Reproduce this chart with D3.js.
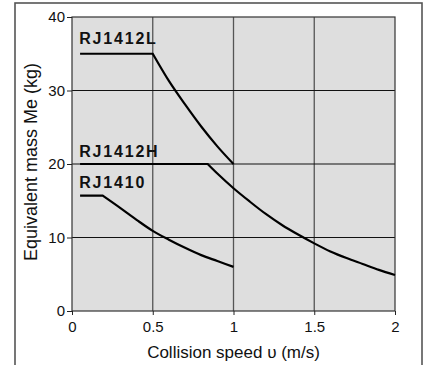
<!DOCTYPE html>
<html lang="en">
<head>
  <meta charset="UTF-8" />
  <title>Equivalent mass vs collision speed</title>
  <style>
    body { margin: 0; background: #fff; }
    svg { display: block; font-family: 'Liberation Sans', Arial, sans-serif; }
    .axis text { font-size: 15px; fill: #111; }
    .axis path { display: none; }
    .axis line { stroke: #222; }
    .series-label { font-size: 16px; font-weight: bold; letter-spacing: 1.8px; fill: #111; }
    .axis-title { font-size: 17px; fill: #111; }
  </style>
</head>
<body>
  <svg id="chart" width="428" height="365"></svg>
  <script src="https://d3js.org/d3.v7.min.js"></script>
  <script>
    // values: [speed m/s, mass kg]
    const rj1412L = [[0.05, 35], [0.5, 35], [0.6, 31.3], [0.7, 28.1], [0.8, 25.1],
                     [0.9, 22.4], [1.0, 20]];
    const rj1412H = [[0.05, 20], [0.84, 20], [0.9, 18.7], [1.0, 16.7], [1.1, 14.9],
                     [1.2, 13.2], [1.3, 11.7], [1.4, 10.4], [1.5, 9.2], [1.6, 8.1],
                     [1.7, 7.2], [1.8, 6.4], [1.9, 5.6], [2.0, 4.9]];
    const rj1410 = [[0.05, 15.7], [0.19, 15.7], [0.3, 14.0], [0.4, 12.4], [0.5, 10.9],
                    [0.6, 9.7], [0.7, 8.6], [0.8, 7.6], [0.9, 6.8], [1.0, 6.0]];

    const seriesNames = ["RJ1412L", "RJ1412H", "RJ1410"];
    const seriesData = [rj1412L, rj1412H, rj1410];
    // label anchor: [speed, mass] of the text baseline start
    const labelPos = [[0.045, 36.3], [0.045, 20.9], [0.045, 16.7]];

    const xTicks = [0, 0.5, 1, 1.5, 2];
    const yTicks = [0, 10, 20, 30, 40];

    const svg = d3.select("#chart");
    const margin = { left: 72, top: 17, right: 33, bottom: 54 };
    const width = 428 - margin.left - margin.right;
    const height = 365 - margin.top - margin.bottom;

    // outer frame, bottom edge runs off the picture
    svg.append("rect")
       .attr("x", 15).attr("y", 3)
       .attr("width", 407).attr("height", 368)
       .attr("fill", "none").attr("stroke", "#555").attr("stroke-width", 1.6);

    const g = svg.append("g").attr("transform", `translate(${margin.left},${margin.top})`);

    const x = d3.scaleLinear().domain([0, 2]).range([0, width]);
    const y = d3.scaleLinear().domain([0, 40]).range([height, 0]);

    g.append("rect")
     .attr("width", width).attr("height", height)
     .attr("fill", "#dedede");

    // grid
    g.selectAll(".vgrid").data(xTicks.slice(1, -1)).join("line")
     .attr("x1", d => x(d)).attr("x2", d => x(d))
     .attr("y1", 0).attr("y2", height)
     .attr("stroke", "#555").attr("stroke-width", 1.3);
    g.selectAll(".hgrid").data(yTicks.slice(1, -1)).join("line")
     .attr("x1", 0).attr("x2", width)
     .attr("y1", d => y(d)).attr("y2", d => y(d))
     .attr("stroke", "#111").attr("stroke-width", 1.2);

    g.append("rect")
     .attr("width", width).attr("height", height)
     .attr("fill", "none").attr("stroke", "#333").attr("stroke-width", 1.2);

    // axes
    g.append("g").attr("class", "axis")
     .attr("transform", `translate(0,${height})`)
     .call(d3.axisBottom(x).tickValues(xTicks).tickSize(4).tickPadding(6).tickFormat(d3.format("")));
    g.append("g").attr("class", "axis")
     .call(d3.axisLeft(y).tickValues(yTicks).tickSize(5).tickPadding(2));

    // curves: flat part straight, then a smooth fall-off
    const flat = d3.line().x(d => x(d[0])).y(d => y(d[1]));
    const curve = d3.line().x(d => x(d[0])).y(d => y(d[1])).curve(d3.curveMonotoneX);

    seriesData.forEach((data, i) => {
      g.append("path")
       .attr("d", flat(data.slice(0, 2)) + curve(data.slice(1)).replace(/^M/, "L"))
       .attr("fill", "none").attr("stroke", "#000")
       .attr("stroke-width", 2.2).attr("stroke-linejoin", "miter");
      g.append("text")
       .attr("class", "series-label")
       .attr("x", x(labelPos[i][0])).attr("y", y(labelPos[i][1]))
       .text(seriesNames[i]);
    });

    // axis titles
    svg.append("text")
       .attr("class", "axis-title")
       .attr("text-anchor", "middle")
       .attr("x", margin.left + width / 2).attr("y", 358)
       .text("Collision speed υ (m/s)");
    svg.append("text")
       .attr("class", "axis-title")
       .attr("text-anchor", "middle")
       .attr("transform", `translate(37,${margin.top + height / 2 - 2}) rotate(-90)`)
       .style("font-size", "18px")
       .text("Equivalent mass Me (kg)");
  </script>
</body>
</html>
